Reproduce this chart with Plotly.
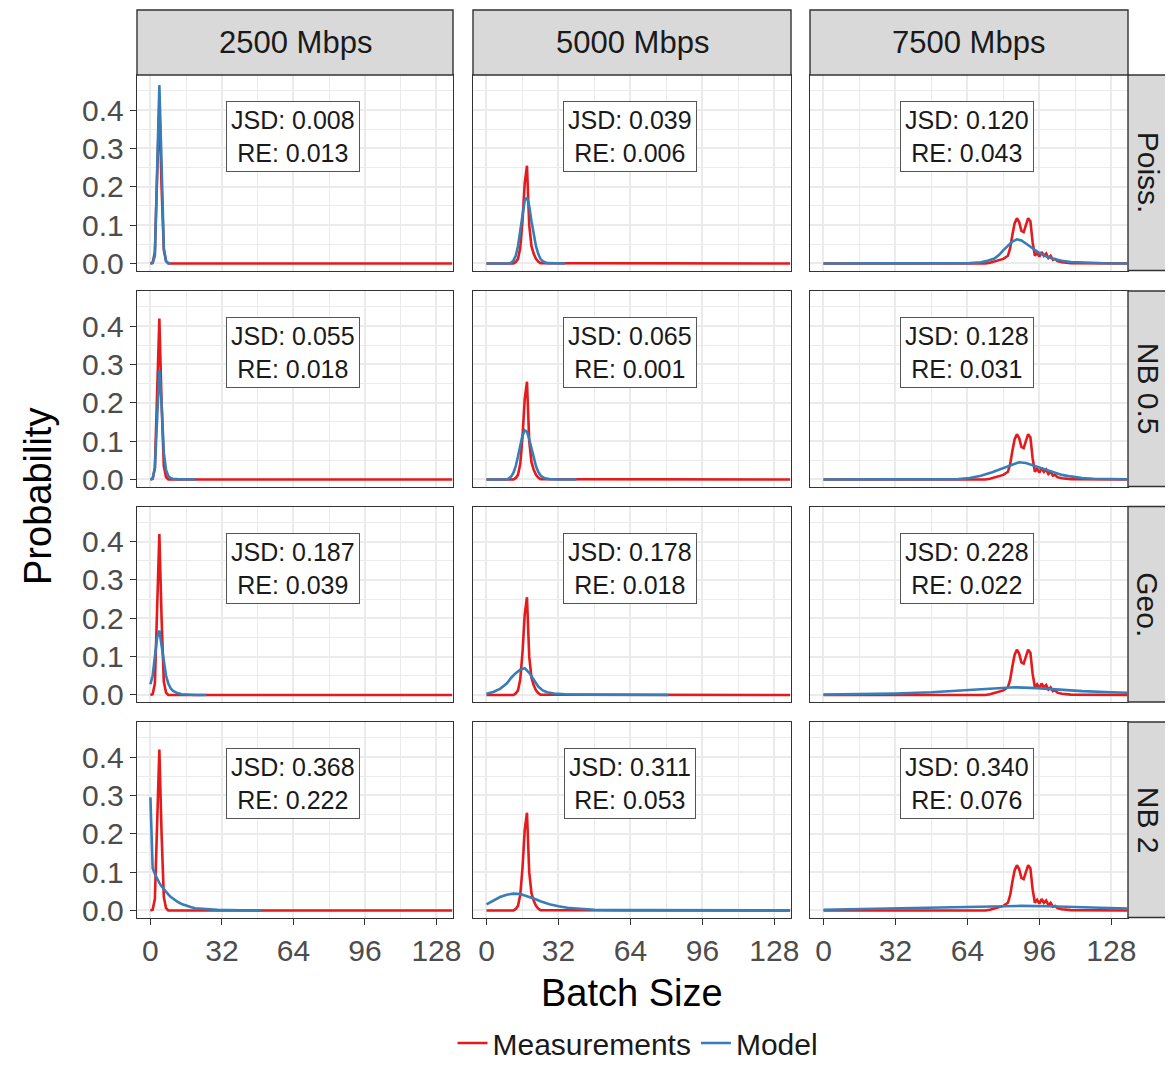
import plotly.graph_objects as go

# ---------------- data ----------------
rates = ["2500 Mbps", "5000 Mbps", "7500 Mbps"]
models = ["Poiss.", "NB 0.5", "Geo.", "NB 2"]
x_ticks = [0, 32, 64, 96, 128]
y_ticks = [0.0, 0.1, 0.2, 0.3, 0.4]

# Measurements (same in every row of a column)
meas_2500_x = [0, 1, 2, 3, 4, 5, 6, 7, 8, 135]
meas_2500_y = [0, 0.002, 0.03, 0.2, 0.42, 0.2, 0.035, 0.006, 0, 0]
meas_5000_x = [0, 12, 13, 14, 15, 16, 17, 18, 19, 20, 21, 22, 23, 24, 135]
meas_5000_y = [0, 0, 0.004, 0.012, 0.04, 0.11, 0.21, 0.255, 0.1, 0.045, 0.025, 0.012, 0.005, 0.001, 0]
meas_7500_x = [0, 72, 74, 76, 78, 80, 82, 83, 84, 85, 86, 87, 88, 89, 90, 91, 92, 93, 94,
               95, 96, 97, 98, 99, 100, 101, 102, 103, 104, 106, 110, 135]
meas_7500_y = [0, 0, 0.002, 0.005, 0.008, 0.012, 0.02, 0.04, 0.075, 0.105, 0.118, 0.108, 0.085,
               0.082, 0.1, 0.118, 0.11, 0.055, 0.02, 0.028, 0.018, 0.03, 0.02, 0.026, 0.014, 0.02,
               0.01, 0.012, 0.006, 0.003, 0.001, 0]

# Model: Poisson
poiss_2500_x = [0, 1, 2, 3, 4, 5, 6, 7, 8, 9]
poiss_2500_y = [0, 0.001, 0.02, 0.22, 0.465, 0.26, 0.04, 0.006, 0.001, 0]
poiss_5000_x = [0, 10, 11, 12, 13, 14, 15, 16, 17, 18, 19, 20, 21, 22, 23, 24, 25, 26, 27, 35]
poiss_5000_y = [0, 0, 0.002, 0.008, 0.02, 0.045, 0.085, 0.13, 0.165, 0.172, 0.15, 0.11, 0.075,
                0.045, 0.025, 0.012, 0.006, 0.003, 0.001, 0]
poiss_7500_x = [0, 60, 65, 70, 73, 76, 78, 80, 82, 84, 86, 88, 90, 92, 94, 96, 98, 100, 103,
                106, 110, 113, 118, 125, 135]
poiss_7500_y = [0, 0, 0.001, 0.003, 0.007, 0.013, 0.022, 0.035, 0.046, 0.057, 0.063, 0.06,
                0.052, 0.043, 0.035, 0.027, 0.021, 0.016, 0.011, 0.007, 0.004, 0.003, 0.0015,
                0.0005, 0]

# Model: Negative binomial 0.5
nb05_2500_x = [0, 1, 2, 3, 4, 5, 6, 7, 8, 9, 10, 12, 15, 20]
nb05_2500_y = [0, 0.002, 0.03, 0.17, 0.285, 0.2, 0.07, 0.025, 0.009, 0.004, 0.002, 0.001, 0, 0]
nb05_5000_x = [0, 9, 10, 11, 12, 13, 14, 15, 16, 17, 18, 19, 20, 21, 22, 23, 24, 25, 26, 28, 32, 40]
nb05_5000_y = [0, 0, 0.003, 0.008, 0.018, 0.035, 0.06, 0.09, 0.115, 0.128, 0.125, 0.105, 0.08,
               0.055, 0.035, 0.02, 0.011, 0.006, 0.003, 0.001, 0, 0]
nb05_7500_x = [0, 55, 60, 65, 70, 75, 80, 84, 87, 90, 94, 98, 102, 106, 110, 115, 120, 128, 135]
nb05_7500_y = [0, 0.0005, 0.001, 0.004, 0.01, 0.019, 0.03, 0.04, 0.045, 0.043, 0.035, 0.026,
               0.018, 0.012, 0.008, 0.004, 0.002, 0.001, 0.0005]

# Model: Geometric
geo_2500_x = [0, 1, 2, 3, 4, 5, 6, 7, 8, 9, 10, 12, 14, 16, 20, 25]
geo_2500_y = [0.028, 0.05, 0.1, 0.15, 0.168, 0.13, 0.085, 0.05, 0.03, 0.018, 0.011, 0.005,
              0.002, 0.001, 0, 0]
geo_5000_x = [0, 3, 6, 9, 11, 13, 15, 17, 19, 21, 23, 25, 27, 30, 35, 45, 60, 81]
geo_5000_y = [0.003, 0.008, 0.016, 0.03, 0.045, 0.057, 0.066, 0.07, 0.058, 0.04, 0.022, 0.012,
              0.007, 0.004, 0.002, 0.001, 0.0005, 0]
geo_7500_x = [0, 16, 32, 48, 64, 75, 85, 95, 105, 115, 128, 135]
geo_7500_y = [0.001, 0.002, 0.004, 0.007, 0.012, 0.017, 0.02, 0.018, 0.014, 0.01, 0.007, 0.006]

# Model: Negative binomial 2
nb2_2500_x = [0, 1, 2, 3, 4, 5, 6, 7, 8, 9, 10, 12, 14, 16, 18, 20, 25, 30, 40, 50]
nb2_2500_y = [0.295, 0.11, 0.095, 0.082, 0.072, 0.063, 0.055, 0.048, 0.042, 0.036, 0.031,
              0.023, 0.017, 0.012, 0.009, 0.006, 0.003, 0.0015, 0.0005, 0.0001]
nb2_5000_x = [0, 3, 6, 9, 12, 15, 18, 21, 24, 28, 32, 36, 40, 48, 60, 80, 100, 135]
nb2_5000_y = [0.016, 0.026, 0.035, 0.041, 0.044, 0.043, 0.038, 0.031, 0.024, 0.016, 0.011,
              0.007, 0.005, 0.002, 0.001, 0.0004, 0.0002, 0]
nb2_7500_x = [0, 20, 40, 60, 75, 88, 100, 110, 120, 135]
nb2_7500_y = [0.002, 0.004, 0.006, 0.009, 0.011, 0.012, 0.011, 0.009, 0.007, 0.005]

jsd_values = [[0.008, 0.039, 0.120],
              [0.055, 0.065, 0.128],
              [0.187, 0.178, 0.228],
              [0.368, 0.311, 0.340]]
re_values = [[0.013, 0.006, 0.043],
             [0.018, 0.001, 0.031],
             [0.039, 0.018, 0.022],
             [0.222, 0.053, 0.076]]

meas_x = [meas_2500_x, meas_5000_x, meas_7500_x]
meas_y = [meas_2500_y, meas_5000_y, meas_7500_y]
model_x = [[poiss_2500_x, poiss_5000_x, poiss_7500_x],
           [nb05_2500_x, nb05_5000_x, nb05_7500_x],
           [geo_2500_x, geo_5000_x, geo_7500_x],
           [nb2_2500_x, nb2_5000_x, nb2_7500_x]]
model_y = [[poiss_2500_y, poiss_5000_y, poiss_7500_y],
           [nb05_2500_y, nb05_5000_y, nb05_7500_y],
           [geo_2500_y, geo_5000_y, geo_7500_y],
           [nb2_2500_y, nb2_5000_y, nb2_7500_y]]

# ---------------- style / layout ----------------
# page body has an 8px margin: figure is shifted by 8px and sized to avoid scrollbars
OFF = 8
W, H = 1173 - OFF, 1069 - 2 * OFF


def px(v):
    return (v - OFF) / W


def py(v):
    return 1 - (v - OFF) / H


RED = "#E41A1C"
BLUE = "#377EB8"
FONT = "Liberation Sans, Arial, sans-serif"
GRID = "#EBEBEB"
BORDER = "#333333"
col_px = [(137, 453), (473, 791), (810, 1128)]
row_px = [(75, 270.5), (291, 486.5), (506.5, 702), (722, 917.5)]
XRANGE = [-6.0, 135.4]
YRANGE = [-0.0183, 0.4915]

fig = go.Figure()
layout = dict(
    width=W, height=H,
    margin=dict(l=0, r=0, t=0, b=0, autoexpand=False),
    paper_bgcolor="white", plot_bgcolor="white",
    font=dict(family=FONT, color="#1A1A1A"),
    showlegend=True,
    legend=dict(orientation="h", x=px(638), xanchor="center", y=py(1043),
                yanchor="middle", font=dict(size=30, family=FONT, color="#1A1A1A"),
                bgcolor="rgba(0,0,0,0)", itemwidth=30),
)
annotations = []
shapes = []

for r in range(4):
    for c in range(3):
        k = r * 3 + c + 1
        xs = "" if k == 1 else str(k)
        fig.add_trace(go.Scatter(
            x=meas_x[c], y=meas_y[c], mode="lines",
            line=dict(color=RED, width=2.6), name="Measurements",
            legendgroup="meas", showlegend=(k == 1),
            xaxis="x" + xs, yaxis="y" + xs, hoverinfo="skip"))
        fig.add_trace(go.Scatter(
            x=model_x[r][c], y=model_y[r][c], mode="lines",
            line=dict(color=BLUE, width=2.6), name="Model",
            legendgroup="model", showlegend=(k == 1),
            xaxis="x" + xs, yaxis="y" + xs, hoverinfo="skip"))

        x0, x1 = col_px[c]
        yt, yb = row_px[r]
        layout["xaxis" + xs] = dict(
            domain=[px(x0), px(x1)], anchor="y" + xs, range=XRANGE,
            tickmode="array", tickvals=x_ticks, ticktext=[str(v) for v in x_ticks],
            showticklabels=(r == 3), ticks="outside" if r == 3 else "",
            ticklen=6, tickwidth=1.3, tickcolor=BORDER,
            tickfont=dict(size=30, color="#4D4D4D", family=FONT),
            showgrid=True, gridcolor=GRID, gridwidth=1.6,
            minor=dict(tickvals=[16, 48, 80, 112], showgrid=True, gridcolor=GRID,
                       gridwidth=0.8, ticks=""),
            zeroline=False, showline=True, mirror=True, linecolor=BORDER, linewidth=1.4,
            automargin=False,
        )
        layout["yaxis" + xs] = dict(
            domain=[py(yb), py(yt)], anchor="x" + xs, range=YRANGE,
            tickmode="array", tickvals=y_ticks, ticktext=[f"{v:.1f}" for v in y_ticks],
            showticklabels=(c == 0), ticks="outside" if c == 0 else "",
            ticklen=6, tickwidth=1.3, tickcolor=BORDER,
            tickfont=dict(size=30, color="#4D4D4D", family=FONT),
            showgrid=True, gridcolor=GRID, gridwidth=1.6,
            minor=dict(tickvals=[0.05, 0.15, 0.25, 0.35, 0.45], showgrid=True,
                       gridcolor=GRID, gridwidth=0.8, ticks=""),
            zeroline=False, showline=True, mirror=True, linecolor=BORDER, linewidth=1.4,
            automargin=False,
        )
        annotations.append(dict(
            xref="x" + xs, yref="y" + xs, x=64, y=0.33, showarrow=False,
            xanchor="center", yanchor="middle",
            text=f"JSD: {jsd_values[r][c]:.3f}<br>RE: {re_values[r][c]:.3f}",
            font=dict(size=25, color="#1A1A1A", family=FONT),
            bgcolor="white", bordercolor="#555555", borderwidth=1, borderpad=4,
        ))

# top strips
for c, lab in enumerate(rates):
    x0, x1 = col_px[c]
    shapes.append(dict(type="rect", xref="paper", yref="paper",
                       x0=px(x0), x1=px(x1), y0=py(75), y1=py(10),
                       fillcolor="#D9D9D9", line=dict(color=BORDER, width=1.4)))
    annotations.append(dict(xref="paper", yref="paper", x=px((x0 + x1) / 2),
                            y=py(43), text=lab, showarrow=False,
                            xanchor="center", yanchor="middle",
                            font=dict(size=31, color="#1A1A1A", family=FONT)))
# right strips
for r, lab in enumerate(models):
    yt, yb = row_px[r]
    shapes.append(dict(type="rect", xref="paper", yref="paper",
                       x0=px(1128), x1=px(1193), y0=py(yb), y1=py(yt),
                       fillcolor="#D9D9D9", line=dict(color=BORDER, width=1.4)))
    annotations.append(dict(xref="paper", yref="paper", x=px(1148),
                            y=py((yt + yb) / 2), text=lab, showarrow=False,
                            textangle=90, xanchor="center", yanchor="middle",
                            font=dict(size=30, color="#1A1A1A", family=FONT)))

# axis titles
annotations.append(dict(xref="paper", yref="paper", x=px(632), y=py(993),
                        text="Batch Size", showarrow=False,
                        xanchor="center", yanchor="middle",
                        font=dict(size=38, color="black", family=FONT)))
annotations.append(dict(xref="paper", yref="paper", x=px(38), y=py(497),
                        text="Probability", showarrow=False, textangle=-90,
                        xanchor="center", yanchor="middle",
                        font=dict(size=38, color="black", family=FONT)))

layout["annotations"] = annotations
layout["shapes"] = shapes
fig.update_layout(**layout)
fig.write_html("out.html")
